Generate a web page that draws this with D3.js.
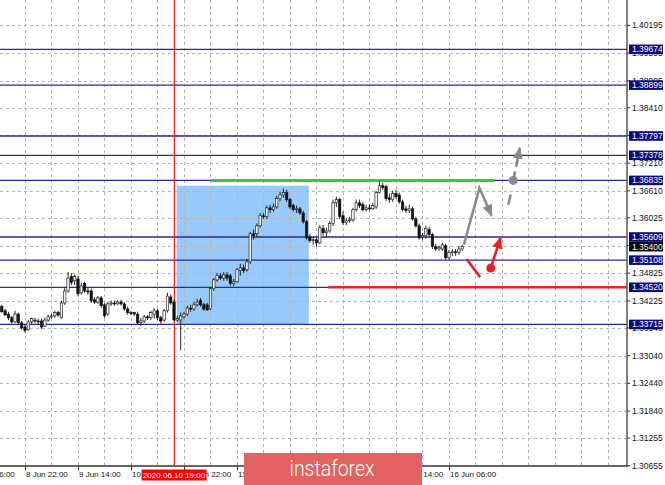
<!DOCTYPE html>
<html><head><meta charset="utf-8">
<script src="https://cdn.jsdelivr.net/npm/d3@7"></script>
<style>body{margin:0;background:#fff;} svg{display:block;font-family:"Liberation Sans",Arial,sans-serif;}</style>
</head><body><svg id="c" width="665" height="485"></svg>
<script>
// ---- data ----
const timeLabels = ["8 Jun 06:00","8 Jun 22:00","9 Jun 14:00","10 Jun 06:00","10 Jun 22:00","11 Jun 14:00","12 Jun 06:00","12 Jun 22:00","15 Jun 14:00","16 Jun 06:00"];
const timeLabelBars = [-9,7,23,39,55,71,87,103,119,135];
const gridBars = [7,15,23,31,39,47,55,63,71,79,87,95,103,111,119,127,135,143,151,159,167,175,183];
const priceTicks = [1.40195,1.39595,1.38995,1.38410,1.37810,1.37210,1.36610,1.36025,1.35425,1.34825,1.34225,1.33640,1.33040,1.32440,1.31840,1.31255,1.30655];
const levels = [1.39674,1.38899,1.37797,1.37378,1.36835,1.35609,1.35108,1.34520,1.33715];
const lastPrice = 1.35400;
const markerBar = 52, markerLabel = "2020.06.10 19:00";

const open = [1.3410,1.3401,1.3394,1.3386,1.3377,1.3394,1.3375,1.3366,1.3360,1.3377,
1.3381,1.3379,1.3379,1.3368,1.3381,1.3388,1.3390,1.3397,1.3386,1.3418,
1.3444,1.3475,1.3466,1.3470,1.3440,1.3460,1.3444,1.3444,1.3425,1.3420,
1.3429,1.3414,1.3394,1.3416,1.3418,1.3416,1.3420,1.3416,1.3405,1.3397,
1.3397,1.3394,1.3375,1.3379,1.3388,1.3386,1.3394,1.3401,1.3386,1.3381,
1.3401,1.3431,1.3420,1.3381,1.3381,1.3388,1.3394,1.3407,1.3405,1.3414,
1.3423,1.3414,1.3414,1.3405,1.3449,1.3468,1.3477,1.3472,1.3479,1.3477,
1.3460,1.3464,1.3488,1.3494,1.3490,1.3507,1.3568,1.3568,1.3585,1.3607,
1.3605,1.3624,1.3620,1.3626,1.3644,1.3652,1.3657,1.3642,1.3629,1.3620,
1.3622,1.3613,1.3594,1.3561,1.3553,1.3555,1.3548,1.3579,1.3570,1.3574,
1.3590,1.3635,1.3642,1.3607,1.3592,1.3596,1.3598,1.3620,1.3635,1.3631,
1.3620,1.3624,1.3622,1.3626,1.3657,1.3672,1.3670,1.3646,1.3642,1.3655,
1.3652,1.3637,1.3622,1.3618,1.3622,1.3600,1.3585,1.3561,1.3564,1.3577,
1.3566,1.3540,1.3535,1.3535,1.3542,1.3516,1.3527,1.3529,1.3527,1.3535];
const high = [1.3414,1.3405,1.3399,1.3390,1.3401,1.3397,1.3379,1.3371,1.3381,1.3386,
1.3386,1.3384,1.3384,1.3386,1.3392,1.3394,1.3401,1.3401,1.3423,1.3451,
1.3485,1.3483,1.3479,1.3477,1.3462,1.3464,1.3451,1.3449,1.3431,1.3433,
1.3433,1.3418,1.3420,1.3423,1.3423,1.3425,1.3425,1.3420,1.3410,1.3401,
1.3399,1.3399,1.3386,1.3392,1.3392,1.3401,1.3407,1.3405,1.3390,1.3405,
1.3440,1.3436,1.3425,1.3390,1.3397,1.3399,1.3412,1.3414,1.3420,1.3427,
1.3429,1.3418,1.3418,1.3453,1.3472,1.3483,1.3483,1.3485,1.3485,1.3481,
1.3470,1.3494,1.3503,1.3501,1.3514,1.3572,1.3577,1.3590,1.3613,1.3613,
1.3629,1.3631,1.3633,1.3650,1.3659,1.3666,1.3663,1.3646,1.3633,1.3629,
1.3626,1.3618,1.3598,1.3568,1.3561,1.3559,1.3587,1.3587,1.3581,1.3596,
1.3642,1.3648,1.3646,1.3616,1.3603,1.3605,1.3624,1.3642,1.3642,1.3637,
1.3631,1.3631,1.3635,1.3661,1.3681,1.3679,1.3674,1.3655,1.3661,1.3663,
1.3657,1.3642,1.3629,1.3631,1.3626,1.3605,1.3590,1.3570,1.3585,1.3583,
1.3570,1.3546,1.3542,1.3548,1.3546,1.3533,1.3535,1.3535,1.3542,1.3544];
const low = [1.3397,1.3390,1.3381,1.3373,1.3375,1.3373,1.3360,1.3353,1.3358,1.3373,
1.3375,1.3371,1.3362,1.3366,1.3377,1.3384,1.3386,1.3388,1.3384,1.3414,
1.3440,1.3457,1.3457,1.3433,1.3436,1.3440,1.3436,1.3418,1.3416,1.3416,
1.3407,1.3386,1.3390,1.3412,1.3412,1.3414,1.3412,1.3401,1.3392,1.3392,
1.3390,1.3371,1.3368,1.3375,1.3381,1.3381,1.3384,1.3381,1.3373,1.3377,
1.3397,1.3414,1.3379,1.3377,1.3316,1.3384,1.3390,1.3399,1.3401,1.3410,
1.3410,1.3401,1.3401,1.3403,1.3444,1.3464,1.3468,1.3466,1.3466,1.3455,
1.3455,1.3462,1.3477,1.3483,1.3486,1.3503,1.3555,1.3561,1.3581,1.3600,
1.3600,1.3613,1.3616,1.3622,1.3639,1.3646,1.3637,1.3622,1.3616,1.3613,
1.3609,1.3590,1.3555,1.3548,1.3544,1.3540,1.3546,1.3564,1.3561,1.3570,
1.3585,1.3626,1.3600,1.3587,1.3587,1.3592,1.3594,1.3616,1.3624,1.3616,
1.3616,1.3618,1.3620,1.3622,1.3655,1.3663,1.3639,1.3635,1.3637,1.3644,
1.3633,1.3616,1.3613,1.3613,1.3596,1.3581,1.3555,1.3555,1.3557,1.3561,
1.3535,1.3531,1.3531,1.3531,1.3512,1.3512,1.3520,1.3520,1.3522,1.3531];
const close = [1.3399,1.3392,1.3386,1.3377,1.3394,1.3375,1.3364,1.3358,1.3377,1.3384,
1.3379,1.3377,1.3366,1.3381,1.3388,1.3390,1.3397,1.3392,1.3418,1.3444,
1.3472,1.3462,1.3475,1.3438,1.3455,1.3444,1.3442,1.3423,1.3420,1.3429,
1.3412,1.3390,1.3416,1.3418,1.3416,1.3420,1.3416,1.3405,1.3397,1.3396,
1.3394,1.3375,1.3379,1.3388,1.3386,1.3397,1.3401,1.3386,1.3379,1.3401,
1.3433,1.3418,1.3381,1.3384,1.3390,1.3394,1.3407,1.3405,1.3414,1.3420,
1.3414,1.3405,1.3403,1.3449,1.3468,1.3477,1.3472,1.3479,1.3472,1.3460,
1.3464,1.3490,1.3494,1.3488,1.3507,1.3568,1.3564,1.3585,1.3607,1.3605,
1.3624,1.3620,1.3626,1.3644,1.3652,1.3657,1.3642,1.3626,1.3620,1.3622,
1.3613,1.3594,1.3559,1.3553,1.3555,1.3548,1.3581,1.3570,1.3574,1.3590,
1.3635,1.3642,1.3605,1.3592,1.3596,1.3598,1.3620,1.3635,1.3629,1.3620,
1.3624,1.3622,1.3629,1.3657,1.3672,1.3668,1.3644,1.3642,1.3655,1.3648,
1.3637,1.3620,1.3618,1.3622,1.3600,1.3585,1.3559,1.3564,1.3579,1.3566,
1.3540,1.3535,1.3538,1.3544,1.3516,1.3527,1.3529,1.3527,1.3535,1.3540];

// annotations in [bar, price]
const zoneBox = {bars:[52.8, 92.7], prices:[1.33706, 1.36720]};
const resistanceLine = {bars:[63.2, 148.9], price:1.36835};
const supportLine = {bars:[98.5, 200], price:1.34520};
const greyPath = [[139.5,1.35441],[144.2,1.36670],[147.9,1.36069]];
const greyDash = [[152.9,1.36308],[153.6,1.36525]];
const greyDot = [154.4,1.36835];
const greyTip = [156.4,1.37544];
const redPath = [[140.3,1.35131],[144.4,1.34740]];
const redDot = [147.6,1.34935];
const redTip = [150.6,1.35599];

// ---- scales ----
const W = 665, H = 485, plotR = 627, plotB = 466;
const x = d3.scaleLinear().domain([0, 100]).range([1.8, 1.8 + 331.25]);
const y = d3.scaleLinear().domain([1.30655, 1.40195]).range([465.7, 25.3]);

const svg = d3.select("#c");
svg.append("rect").attr("width", W).attr("height", H).attr("fill", "#fff");
const plot = svg.append("g");
const clip = svg.append("defs").append("clipPath").attr("id","pc");
clip.append("rect").attr("x",0).attr("y",0).attr("width",plotR).attr("height",plotB);
plot.attr("clip-path","url(#pc)");

// zone
plot.append("rect")
  .attr("x", x(zoneBox.bars[0])).attr("width", x(zoneBox.bars[1]) - x(zoneBox.bars[0]))
  .attr("y", y(zoneBox.prices[1])).attr("height", y(zoneBox.prices[0]) - y(zoneBox.prices[1]))
  .attr("fill", "#97c9fb");

// grid
plot.selectAll(".hg").data(priceTicks).join("line")
  .attr("x1", 0).attr("x2", plotR).attr("y1", d => Math.round(y(d)) + 0.5).attr("y2", d => Math.round(y(d)) + 0.5)
  .attr("stroke", "#b4b4b4").attr("stroke-dasharray", "3,3");
plot.selectAll(".vg").data(gridBars).join("line")
  .attr("y1", 0).attr("y2", plotB).attr("x1", d => Math.round(x(d)) + 0.5).attr("x2", d => Math.round(x(d)) + 0.5)
  .attr("stroke", "#b4b4b4").attr("stroke-dasharray", "3,3");

// levels
plot.selectAll(".lv").data(levels).join("line")
  .attr("x1", 0).attr("x2", plotR).attr("y1", d => y(d)).attr("y2", d => y(d))
  .attr("stroke", "#2a2a98").attr("stroke-width", 1.3);

// red vertical marker
plot.append("line").attr("x1", x(markerBar) + 0.3).attr("x2", x(markerBar) + 0.3)
  .attr("y1", 0).attr("y2", plotB).attr("stroke", "#f01818").attr("stroke-width", 1.2);

// resistance (green) & support (red)
plot.append("line").attr("x1", x(resistanceLine.bars[0])).attr("x2", x(resistanceLine.bars[1]))
  .attr("y1", y(resistanceLine.price)).attr("y2", y(resistanceLine.price))
  .attr("stroke", "#3cc63c").attr("stroke-width", 3);
plot.append("line").attr("x1", x(supportLine.bars[0])).attr("x2", x(supportLine.bars[1]))
  .attr("y1", y(supportLine.price)).attr("y2", y(supportLine.price))
  .attr("stroke", "#ee2020").attr("stroke-width", 2.6);

// candles
const idx = d3.range(close.length);
const cg = plot.append("g");
cg.selectAll("line").data(idx).join("line")
  .attr("x1", i => x(i)).attr("x2", i => x(i))
  .attr("y1", i => y(high[i])).attr("y2", i => y(low[i]))
  .attr("stroke", "#111").attr("stroke-width", 0.9);
cg.selectAll("rect").data(idx).join("rect")
  .attr("x", i => x(i) - 1.2).attr("width", 2.4)
  .attr("y", i => y(Math.max(open[i], close[i])))
  .attr("height", i => Math.max(1, Math.abs(y(open[i]) - y(close[i]))))
  .attr("fill", i => close[i] >= open[i] ? "#f4f4f4" : "#111")
  .attr("stroke", "#111").attr("stroke-width", 0.6);

// markers
const defs = svg.select("defs");
function mk(id, col) {
  defs.append("marker").attr("id", id).attr("viewBox", "0 0 12 10").attr("refX", 11).attr("refY", 5)
    .attr("markerWidth", 12).attr("markerHeight", 10).attr("markerUnits", "userSpaceOnUse").attr("orient", "auto")
    .append("path").attr("d", "M0,0 L12,5 L0,10 Z").attr("fill", col);
}
mk("ag", "#8a8a8a"); mk("ar", "#f01c24");
const line = d3.line().x(d => x(d[0])).y(d => y(d[1]));
plot.append("path").attr("d", line(greyPath)).attr("fill", "none").attr("stroke", "#8a8a8a")
  .attr("stroke-width", 2.6).attr("marker-end", "url(#ag)");
plot.append("path").attr("d", line(greyDash)).attr("fill", "none").attr("stroke", "#8a8a8a").attr("stroke-width", 2.6);
plot.append("path").attr("d", line([greyDot, greyTip])).attr("fill", "none").attr("stroke", "#8a8a8a")
  .attr("stroke-width", 2.6).attr("stroke-dasharray", "9,5,30").attr("marker-end", "url(#ag)");
plot.append("circle").attr("cx", x(greyDot[0])).attr("cy", y(greyDot[1])).attr("r", 4.5).attr("fill", "#8a8a8a");
plot.append("path").attr("d", line(redPath)).attr("fill", "none").attr("stroke", "#f01c24").attr("stroke-width", 2.6);
plot.append("path").attr("d", line([redDot, redTip])).attr("fill", "none").attr("stroke", "#f01c24")
  .attr("stroke-width", 2.6).attr("marker-end", "url(#ar)");
plot.append("circle").attr("cx", x(redDot[0])).attr("cy", y(redDot[1])).attr("r", 4.5).attr("fill", "#f01c24");

// axes
svg.append("line").attr("x1", plotR).attr("x2", plotR).attr("y1", 0).attr("y2", plotB + 1).attr("stroke", "#555").attr("stroke-width", 1.5);
svg.append("line").attr("x1", 0).attr("x2", plotR).attr("y1", plotB).attr("y2", plotB).attr("stroke", "#666").attr("stroke-width", 2);

// y tick labels
const yt = svg.append("g").attr("font-size", 8.5);
yt.selectAll("line").data(priceTicks).join("line")
  .attr("x1", plotR).attr("x2", plotR + 3).attr("y1", d => y(d)).attr("y2", d => y(d)).attr("stroke", "#333");
yt.selectAll("text").data(priceTicks).join("text")
  .attr("x", 632).attr("y", d => y(d) + 3).attr("fill", "#111").text(d => d.toFixed(5));

// level labels
const lb = svg.append("g").attr("font-size", 8.5);
levels.forEach(v => {
  lb.append("rect").attr("x", 629).attr("y", y(v) - 4.8).attr("width", 34).attr("height", 9.6).attr("fill", "#0a0a80");
  lb.append("text").attr("x", 632).attr("y", y(v) + 3).attr("fill", "#fff").text(v.toFixed(5));
});
lb.append("rect").attr("x", 629).attr("y", y(lastPrice) - 4.8).attr("width", 34).attr("height", 9.6).attr("fill", "#000");
lb.append("text").attr("x", 632).attr("y", y(lastPrice) + 3).attr("fill", "#fff").text(lastPrice.toFixed(5));

// x labels
const xt = svg.append("g").attr("font-size", 8);
xt.selectAll("line").data(timeLabelBars).join("line")
  .attr("x1", d => Math.round(x(d)) + 0.5).attr("x2", d => Math.round(x(d)) + 0.5)
  .attr("y1", plotB).attr("y2", plotB + 4).attr("stroke", "#333");
xt.selectAll("text").data(timeLabelBars).join("text")
  .attr("x", d => x(d) + 1).attr("y", 477).attr("fill", "#111").text((d, i) => timeLabels[i]);

// marker time label
svg.append("rect").attr("x", x(markerBar) - 32.5).attr("y", 469.5).attr("width", 65).attr("height", 11).attr("fill", "#f00");
svg.append("text").attr("x", x(markerBar)).attr("y", 477.5).attr("text-anchor", "middle")
  .attr("font-size", 8).attr("fill", "#fff").text(markerLabel);

// watermark
svg.append("rect").attr("x", 244).attr("y", 453).attr("width", 178).attr("height", 32).attr("fill", "#e26262");
svg.append("text").attr("x", 332).attr("y", 476).attr("text-anchor", "middle")
  .attr("font-family", "Roboto, 'Open Sans', sans-serif").attr("font-weight", 300)
  .attr("font-size", 22).attr("textLength", 85).attr("lengthAdjust", "spacingAndGlyphs")
  .attr("fill", "#fff").text("instaforex");
</script></body></html>
